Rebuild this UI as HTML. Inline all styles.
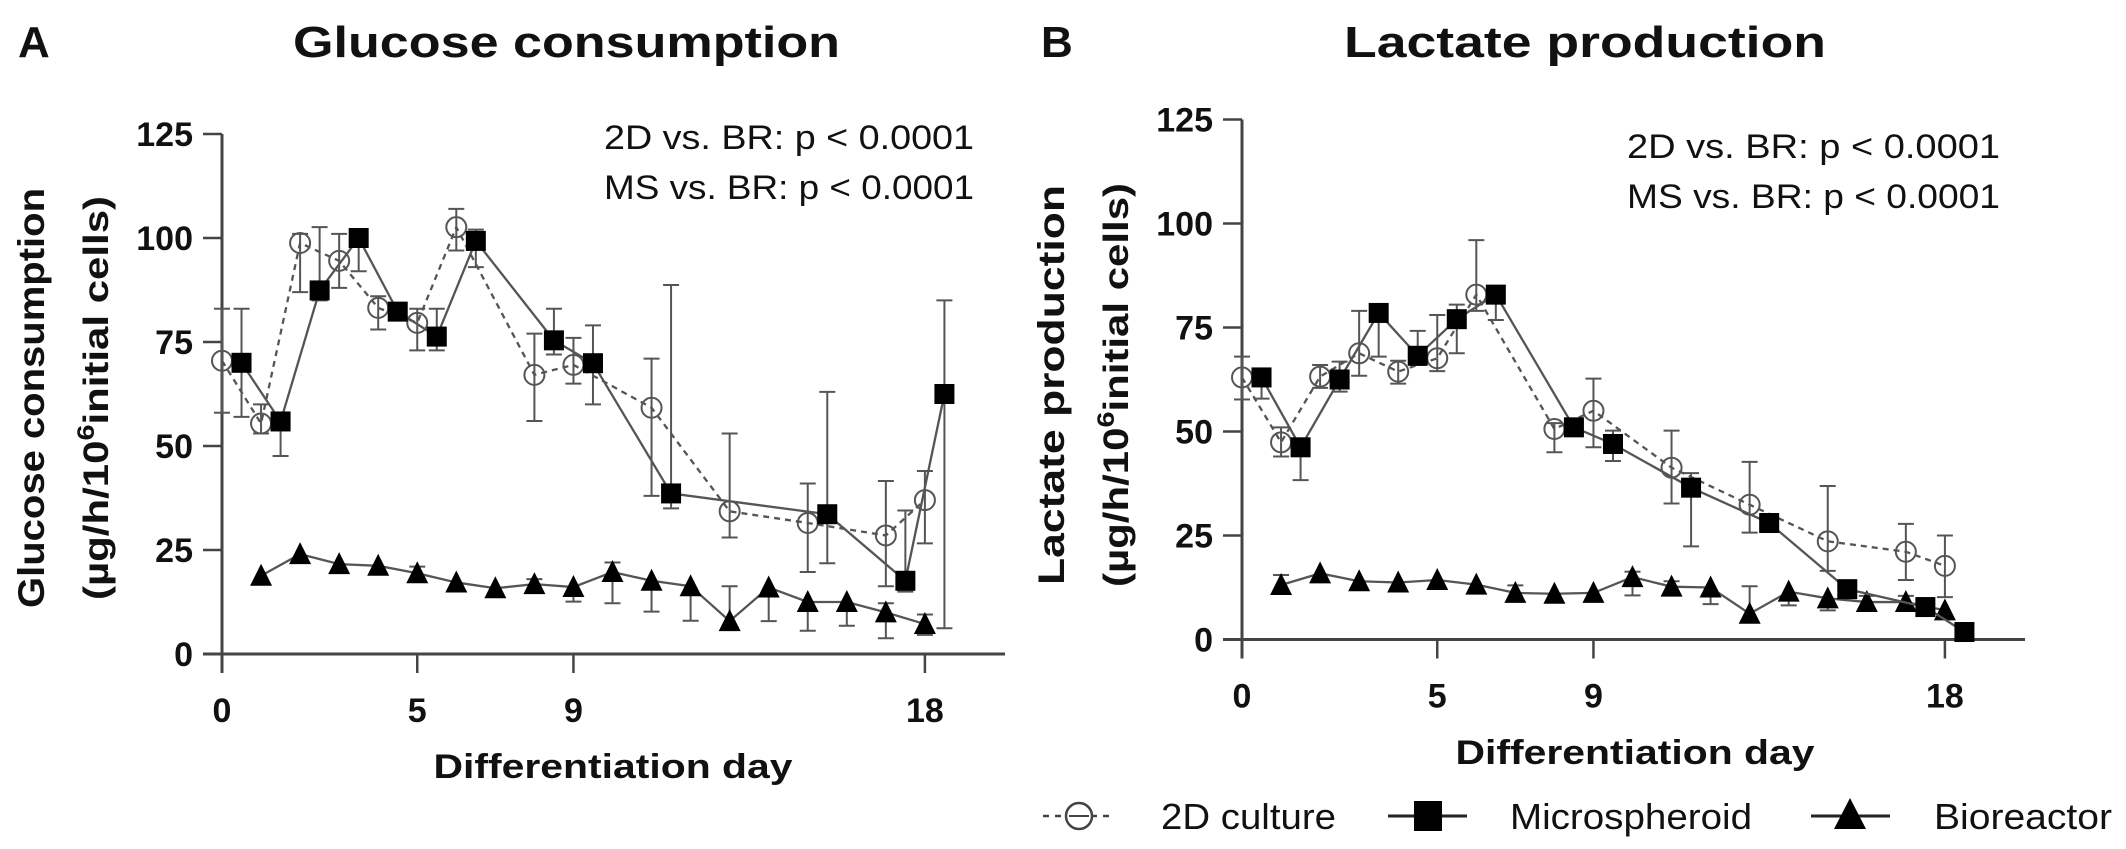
<!DOCTYPE html>
<html><head><meta charset="utf-8"><style>
html,body{margin:0;padding:0;background:#fff;}
svg{display:block;}
text{font-family:"Liberation Sans",Arial,sans-serif;fill:#111;}
.b{font-weight:bold;}
</style></head><body>
<svg id="chart" width="2126" height="849" viewBox="0 0 2126 849" xmlns="http://www.w3.org/2000/svg">
<rect width="2126" height="849" fill="#fff"/>
<text class="b" x="18" y="57" font-size="44">A</text>
<text class="b" x="1041" y="57" font-size="44">B</text>
<text class="b" x="293" y="57" font-size="44" textLength="547" lengthAdjust="spacingAndGlyphs">Glucose consumption</text>
<text class="b" x="1344" y="57" font-size="44" textLength="482" lengthAdjust="spacingAndGlyphs">Lactate production</text>
<text x="604" y="149" font-size="34" textLength="370" lengthAdjust="spacingAndGlyphs">2D vs. BR: p &lt; 0.0001</text>
<text x="604" y="199" font-size="34" textLength="370" lengthAdjust="spacingAndGlyphs">MS vs. BR: p &lt; 0.0001</text>
<text x="1627" y="158" font-size="34" textLength="373" lengthAdjust="spacingAndGlyphs">2D vs. BR: p &lt; 0.0001</text>
<text x="1627" y="208" font-size="34" textLength="373" lengthAdjust="spacingAndGlyphs">MS vs. BR: p &lt; 0.0001</text>
<g transform="translate(44,398) rotate(-90)">
<text class="b" x="0" y="0" font-size="37" text-anchor="middle" textLength="420" lengthAdjust="spacingAndGlyphs">Glucose consumption</text>
<text class="b" x="0" y="64" font-size="35" text-anchor="middle" textLength="404" lengthAdjust="spacingAndGlyphs">(µg/h/10<tspan font-size="24" dy="-14">6</tspan><tspan dy="14">initial cells)</tspan></text>
</g>
<g transform="translate(1064,385) rotate(-90)">
<text class="b" x="0" y="0" font-size="37" text-anchor="middle" textLength="400" lengthAdjust="spacingAndGlyphs">Lactate production</text>
<text class="b" x="0" y="64" font-size="35" text-anchor="middle" textLength="404" lengthAdjust="spacingAndGlyphs">(µg/h/10<tspan font-size="24" dy="-14">6</tspan><tspan dy="14">initial cells)</tspan></text>
</g>
<text class="b" x="613" y="778" font-size="34" text-anchor="middle" textLength="359" lengthAdjust="spacingAndGlyphs">Differentiation day</text>
<text class="b" x="1635" y="764" font-size="34" text-anchor="middle" textLength="359" lengthAdjust="spacingAndGlyphs">Differentiation day</text>
<g id="plots"></g>
<g>
<g>
<line x1="1043" y1="816" x2="1115" y2="816" stroke="#444" stroke-width="2.5" stroke-dasharray="6,6"/>
<circle cx="1079" cy="816" r="13" fill="#fff" stroke="#444" stroke-width="2.5"/>
<line x1="1069" y1="816" x2="1089" y2="816" stroke="#444" stroke-width="2"/>
<text x="1161" y="829" font-size="36" textLength="175" lengthAdjust="spacingAndGlyphs">2D culture</text>
</g>
<g>
<line x1="1388" y1="816" x2="1467" y2="816" stroke="#222" stroke-width="3"/>
<rect x="1414" y="801" width="28" height="30" fill="#000"/>
<text x="1510" y="829" font-size="36" textLength="242" lengthAdjust="spacingAndGlyphs">Microspheroid</text>
</g>
<g>
<line x1="1811" y1="816" x2="1890" y2="816" stroke="#222" stroke-width="3"/>
<polygon points="1850,798 1866,829 1834,829" fill="#000"/>
<text x="1934" y="829" font-size="36" textLength="178" lengthAdjust="spacingAndGlyphs">Bioreactor</text>
</g>
</g>
</svg>
<script>
// Panel A: glucose consumption
const days2D = [0,1,2,3,4,5,6,8,9,11,13,15,17,18];
const daysMS = [0.5,1.5,2.5,3.5,4.5,5.5,6.5,8.5,9.5,11.5,15.5,17.5,18.5];
const daysBR = [1,2,3,4,5,6,7,8,9,10,11,12,13,14,15,16,17,18];
const gluc2D = [70.5,55.4,98.8,94.5,83.2,79.6,102.6,67.1,69.5,59.2,34.3,31.5,28.5,37];
const gluc2DHi = [83,60,101,101,86,83,107,77,76,71,53,41,41.6,44];
const gluc2DLo = [58,53,87,88,78,73,97,56,65,38,28,19.7,16.3,26.6];
const glucMS = [70,55.9,87.4,100,82.3,76.3,99.3,75.4,69.9,38.6,33.6,17.6,62.5];
const glucMSHi = [83,57,102.6,102,83.8,83,102,83,79,88.7,63,34.5,85];
const glucMSLo = [57,47.6,85,92,80.8,73,93,72,60,35,21.8,15,6.2];
const glucBR = [18.8,24,21.6,21.2,19.4,17.2,15.8,16.8,16.1,19.7,17.6,16.3,7.9,16,12.5,12.5,10,7.2];
const glucBRHi = [18.8,24,21.6,21.2,21,17.2,15.8,18,16.1,22,17.6,16.3,16.3,16,12.5,12.5,12.2,9.5];
const glucBRLo = [18.8,24,20,21.2,19.4,17.2,15.8,15.3,12.6,12.2,10.2,8,7.9,7.9,5.6,6.8,3.8,4.6];
// Panel B: lactate production
const daysMSB = [0.5,1.5,2.5,3.5,4.5,5.5,6.5,8.5,9.5,11.5,13.5,15.5,17.5,18.5];
const lac2D = [63,47.4,63.2,68.8,64.4,67.6,82.9,50.6,55,41.3,32.4,23.6,21.1,17.7];
const lac2DHi = [68,51,66,79,67,78,96,52,62.7,50.2,42.7,36.9,27.8,25];
const lac2DLo = [57.7,44,60.5,63.4,61.5,64.5,79,45,46.2,32.7,25.7,16.5,14.3,10.2];
const lacMS = [63,46.2,62.5,78.5,68.2,77,82.9,51,47,36.5,28,12.1,7.8,1.8];
const lacMSHi = [63,46.2,66.8,78.5,74.2,80.5,82.9,53,50.2,40,30,13,8.5,1.8];
const lacMSLo = [57.9,38.3,59.6,68,66,68.8,76.8,49,42.9,22.4,26,11,7,1.8];
const lacBR = [13.1,15.9,14,13.7,14.3,13.2,11.2,11,11.2,15,12.7,12.5,6.2,11.5,9.9,9,9,7];
const lacBRHi = [15.5,15.9,14,13.7,14.3,13.2,13,11,11.2,16.3,14,12.5,12.8,11.5,9.9,10.5,10.5,7];
const lacBRLo = [13.1,15.9,14,13.7,14.3,13.2,11.2,11,11.2,10.6,11,8.5,6.2,8.2,7,7.5,7.5,7];
const yTicks = [0,25,50,75,100,125];
const xTicks = [0,5,9,18];

const NS = 'http://www.w3.org/2000/svg';
const root = document.getElementById('plots');
function mk(tag, attrs, parent){
  const e = document.createElementNS(NS, tag);
  for (const k in attrs) e.setAttribute(k, attrs[k]);
  (parent||root).appendChild(e);
  return e;
}
function panel(key, ox, oy, series){
  const X = d => ox + 39.05*d;
  const Y = v => oy - 4.16*v;
  const g = mk('g', {});
  
  
  const ya = mk('line', {x1:ox, y1:Y(125), x2:ox, y2:oy+19, stroke:'#444', 'stroke-width':3}, g);
  
  
  const xa = mk('line', {x1:ox-19, y1:oy, x2:ox+783, y2:oy, stroke:'#444', 'stroke-width':3}, g);
  
  
  yTicks.forEach(t => {
    mk('line', {x1:ox-19, y1:Y(t), x2:ox, y2:Y(t), stroke:'#444', 'stroke-width':2.5}, g);
    const tx = mk('text', {x:ox-29, y:Y(t)+12, 'font-size':34, 'text-anchor':'end', class:'b'}, g);
    tx.textContent = t;
    
    
  });
  xTicks.forEach(t => {
    mk('line', {x1:X(t), y1:oy, x2:X(t), y2:oy+19, stroke:'#444', 'stroke-width':2.5}, g);
    const tx = mk('text', {x:X(t), y:oy+68, 'font-size':34, 'text-anchor':'middle', class:'b'}, g);
    tx.textContent = t;
    
    
  });
  series.forEach(s => {
    const sg = mk('g', {}, g);
    
    
    const pts = s.days.map((d,i) => X(d) + ',' + Y(s.v[i])).join(' ');
    const pl = mk('polyline', {points:pts, fill:'none', stroke:'#555', 'stroke-width':2.3, 'stroke-dasharray':s.dash||'none'}, sg);
    
    
    s.days.forEach((d,i) => {
      const x = X(d);
      [s.hi[i], s.lo[i]].forEach(v => {
        if (Math.abs(v - s.v[i]) < 0.5) return;
        mk('line', {x1:x, y1:Y(s.v[i]), x2:x, y2:Y(v), stroke:'#555', 'stroke-width':2}, sg);
        mk('line', {x1:x-8, y1:Y(v), x2:x+8, y2:Y(v), stroke:'#555', 'stroke-width':2}, sg);
      });
    });
    s.days.forEach((d,i) => {
      const x = X(d), y = Y(s.v[i]);
      let m;
      if (s.shape === 'circle') {
        m = mk('circle', {cx:x, cy:y, r:10, fill:'none', stroke:'#555', 'stroke-width':2}, sg);
      } else if (s.shape === 'square') {
        m = mk('rect', {x:x-10, y:y-10, width:20, height:20, fill:'#000'}, sg);
      } else {
        m = mk('polygon', {points:(x)+','+(y-12)+' '+(x+11)+','+(y+10)+' '+(x-11)+','+(y+10), fill:'#000'}, sg);
      }
      
      
    });
  });
}
panel('glucose', 222, 654, [
  {name:'bioreactor', days:daysBR, v:glucBR, hi:glucBRHi, lo:glucBRLo, shape:'tri'},
  {name:'2d-culture', days:days2D, v:gluc2D, hi:gluc2DHi, lo:gluc2DLo, shape:'circle', dash:'6,5'},
  {name:'microspheroid', days:daysMS, v:glucMS, hi:glucMSHi, lo:glucMSLo, shape:'square'}
]);
panel('lactate', 1242, 639.5, [
  {name:'bioreactor', days:daysBR, v:lacBR, hi:lacBRHi, lo:lacBRLo, shape:'tri'},
  {name:'2d-culture', days:days2D, v:lac2D, hi:lac2DHi, lo:lac2DLo, shape:'circle', dash:'6,5'},
  {name:'microspheroid', days:daysMSB, v:lacMS, hi:lacMSHi, lo:lacMSLo, shape:'square'}
]);
</script>
</body></html>
